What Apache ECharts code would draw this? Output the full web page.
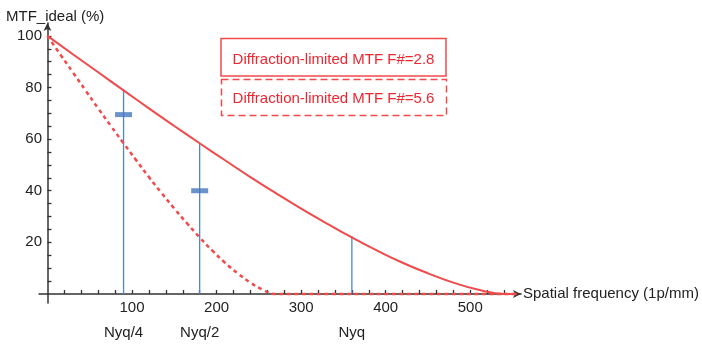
<!DOCTYPE html>
<html>
<head>
<meta charset="utf-8">
<script src="https://cdn.jsdelivr.net/npm/echarts@6/dist/echarts.min.js"></script>
<style>html,body{margin:0;padding:0;background:#fff}#c{width:702px;height:344px}</style>
</head>
<body>
<div id="c"></div>
<script>
// Diffraction-limited MTF, F#=2.8 (solid)
var solidX = [0, 30, 60, 90, 120, 150, 180, 210, 240, 270, 300, 330, 360, 390, 420, 450, 480, 510, 540, 555];
var solidY = [100, 92.9, 85.9, 78.9, 71.9, 65.1, 58.4, 51.8, 45.3, 39.1, 33.1, 27.4, 21.9, 16.8, 12.1, 8.0, 4.4, 1.6, 0, 0];
// Diffraction-limited MTF, F#=5.6 (dashed)
var dashedX = [0, 15, 30, 45, 60, 75, 90, 105, 120, 135, 150, 165, 180, 195, 210, 225, 240, 255, 270, 555];
var dashedY = [100, 92.9, 85.9, 78.9, 71.9, 65.1, 58.4, 51.8, 45.3, 39.1, 33.1, 27.4, 21.9, 16.8, 12.1, 8.0, 4.4, 1.6, 0, 0];
// Nyquist markers
var nyqX = [90, 180, 360];
var nyqTop = [79, 58.4, 22.5];
var nyqLabels = ['Nyq/4', 'Nyq/2', 'Nyq'];
// Blue measurement marks
var markX = [90, 180];
var markY = [69.5, 40];
// Ticks
var xTickLabels = [100, 200, 300, 400, 500];
var yTickLabels = [20, 40, 60, 80, 100];
var xMinorTicks = [];
for (var i = 20; i <= 540; i += 20) xMinorTicks.push(i);
var yMinorTicks = [];
for (var j = 5; j <= 100; j += 5) yMinorTicks.push(j);
var legendTexts = ['Diffraction-limited MTF F#=2.8', 'Diffraction-limited MTF F#=5.6'];

var RED = '#f24a4a';
var TXT = '#ee2630';
var BLUE = '#4f86d0';
var font = 'Liberation Sans, Arial, sans-serif';

function pairs(xs, ys) { return xs.map(function (x, k) { return [x, ys[k]]; }); }

var series = [
  { type: 'line', data: pairs(solidX, solidY), smooth: true, showSymbol: false, lineStyle: { color: RED, width: 2 }, z: 3 },
  { type: 'line', data: pairs(dashedX, dashedY), smooth: true, showSymbol: false, lineStyle: { color: RED, width: 2.5, type: [4, 3.5] }, z: 3 }
];
nyqX.forEach(function (x, k) {
  series.push({ type: 'line', data: [[x, 0], [x, nyqTop[k]]], showSymbol: false, lineStyle: { color: BLUE, width: 1.3 }, z: 2 });
});
series.push({ type: 'scatter', data: pairs(markX, markY), symbol: 'rect', symbolSize: [17, 5], itemStyle: { color: '#4677bd' }, z: 4 });

var chart = echarts.init(document.getElementById('c'), null, { renderer: 'canvas' });
chart.setOption({
  animation: false,
  backgroundColor: '#fff',
  textStyle: { fontFamily: font },
  title: { text: 'MTF_ideal (%)', left: 1, top: 4, textStyle: { fontFamily: font, fontSize: 15, fontWeight: 'normal', color: '#222' } },
  grid: { left: 39, right: 181, top: 23, bottom: 41 },
  xAxis: [{
    type: 'value', min: -10, max: 560,
    name: 'Spatial frequency (1p/mm)', nameLocation: 'end', nameGap: 2,
    nameTextStyle: { fontFamily: font, fontSize: 15, color: '#222', verticalAlign: 'middle', align: 'left' },
    axisLine: { onZero: true, symbol: ['none', 'arrow'], symbolSize: [6, 8], lineStyle: { color: '#333', width: 1.5 } },
    axisTick: { show: true, inside: true, length: 4, customValues: xMinorTicks, lineStyle: { color: '#333', width: 1.3 } },
    axisLabel: { customValues: xTickLabels, margin: -3, fontSize: 15, color: '#222', fontFamily: font },
    splitLine: { show: false }
  }, {
    type: 'value', min: -10, max: 560, position: 'bottom', offset: 14,
    axisLine: { show: false, onZero: false },
    axisTick: { show: false },
    axisLabel: {
      customValues: nyqX, margin: 8, fontSize: 15, color: '#222', fontFamily: font,
      formatter: function (v) { var k = nyqX.indexOf(v); return k >= 0 ? nyqLabels[k] : ''; }
    },
    splitLine: { show: false }
  }],
  yAxis: {
    type: 'value', min: -3.5, max: 105,
    axisLine: { onZero: true, symbol: ['none', 'arrow'], symbolSize: [6, 8], lineStyle: { color: '#333', width: 1.5 } },
    axisTick: { show: true, inside: true, length: 4, customValues: yMinorTicks, lineStyle: { color: '#333', width: 1.3 } },
    axisLabel: { customValues: yTickLabels, margin: -3, fontSize: 15, color: '#222', fontFamily: font },
    splitLine: { show: false }
  },
  graphic: [
    { type: 'rect', shape: { x: 221, y: 38.5, width: 225, height: 37.5 }, style: { fill: 'none', stroke: RED, lineWidth: 1.5 } },
    { type: 'text', x: 333.5, y: 60, style: { text: legendTexts[0], fill: TXT, font: '15px ' + font, align: 'center', verticalAlign: 'middle' } },
    { type: 'rect', shape: { x: 221.5, y: 79.5, width: 225, height: 36 }, style: { fill: 'none', stroke: RED, lineWidth: 1.5, lineDash: [7, 4] } },
    { type: 'text', x: 333.5, y: 99, style: { text: legendTexts[1], fill: TXT, font: '15px ' + font, align: 'center', verticalAlign: 'middle' } }
  ],
  series: series
});
</script>
</body>
</html>
